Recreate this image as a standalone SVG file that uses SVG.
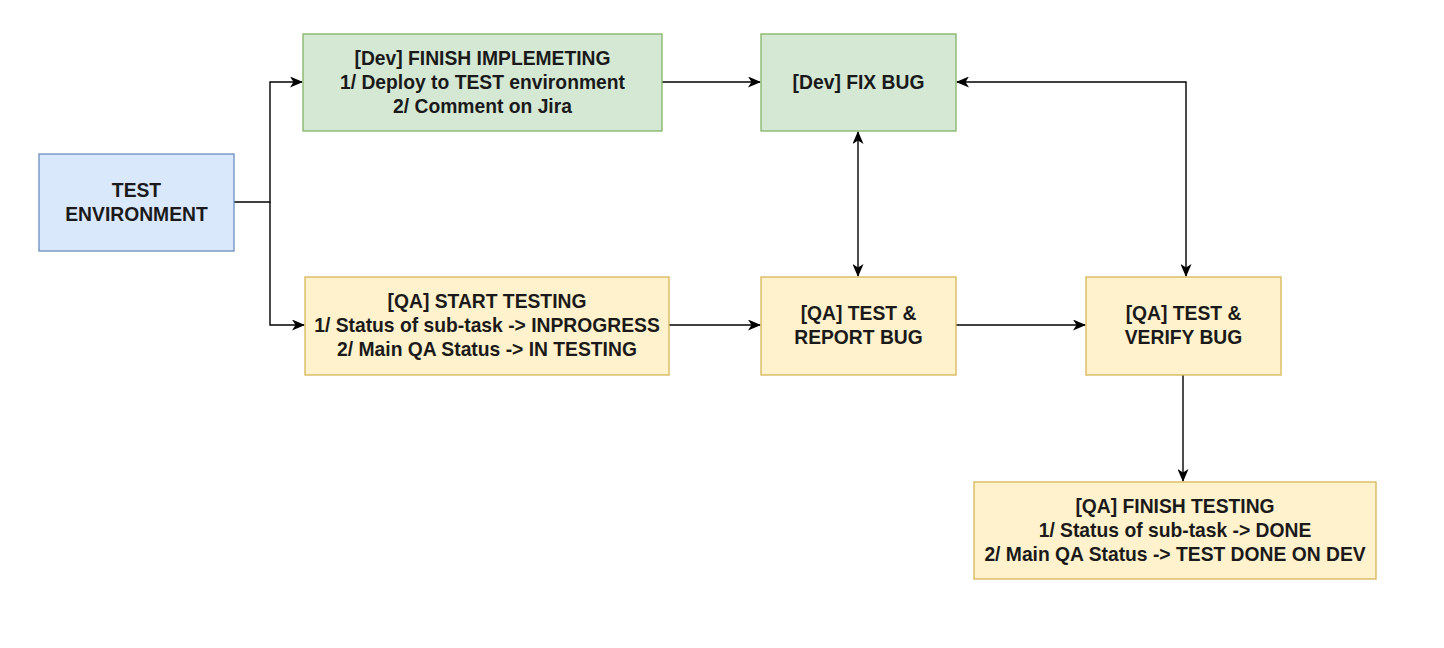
<svg xmlns="http://www.w3.org/2000/svg" width="1444" height="648" viewBox="0 0 1444 648">
<style>
.blue{fill:#dae8fc;stroke:#6c8ebf;stroke-width:1.3}
.green{fill:#d5e8d4;stroke:#82b366;stroke-width:1.3}
.yellow{fill:#fff2cc;stroke:#d6b656;stroke-width:1.3}
text{font-family:"Liberation Sans",Arial,Helvetica,sans-serif;font-weight:bold;font-size:19.3px;fill:#1a1a1a;text-anchor:middle}
.c{fill:none;stroke:#000;stroke-width:1.4}
</style>
<defs>
<marker id="ah" viewBox="0 0 13 11" refX="12" refY="5.5" markerWidth="13" markerHeight="11" markerUnits="userSpaceOnUse" orient="auto-start-reverse">
<path d="M0,0 L13,5.5 L0,11 L3.5,5.5 Z" fill="#000"/>
</marker>
</defs>
<rect width="1444" height="648" fill="#fff"/>
<g id="connectors">
<path class="c" d="M234,202 H270 V82 H302" marker-end="url(#ah)"/>
<path class="c" d="M270,202 V325 H304" marker-end="url(#ah)"/>
<path class="c" d="M662,82 H760" marker-end="url(#ah)"/>
<path class="c" d="M858,132 V276" marker-start="url(#ah)" marker-end="url(#ah)"/>
<path class="c" d="M957,82 H1186 V276" marker-start="url(#ah)" marker-end="url(#ah)"/>
<path class="c" d="M669,325 H760" marker-end="url(#ah)"/>
<path class="c" d="M956,325 H1085" marker-end="url(#ah)"/>
<path class="c" d="M1183,375 V481" marker-end="url(#ah)"/>
</g>
<g id="test-environment">
<rect class="blue" x="39" y="154" width="195" height="97"/>
<text x="136.5" y="197">TEST</text>
<text x="136.5" y="221">ENVIRONMENT</text>
</g>
<g id="finish-implementing">
<rect class="green" x="303" y="34" width="359" height="97"/>
<text x="482.5" y="65">[Dev] FINISH IMPLEMETING</text>
<text x="482.5" y="89">1/ Deploy to TEST environment</text>
<text x="482.5" y="113">2/ Comment on Jira</text>
</g>
<g id="fix-bug">
<rect class="green" x="761" y="34" width="195" height="97"/>
<text x="858.5" y="89">[Dev] FIX BUG</text>
</g>
<g id="start-testing">
<rect class="yellow" x="305" y="277" width="364" height="98"/>
<text x="487" y="308">[QA] START TESTING</text>
<text x="487" y="332">1/ Status of sub-task -&gt; INPROGRESS</text>
<text x="487" y="356">2/ Main QA Status -&gt; IN TESTING</text>
</g>
<g id="report-bug">
<rect class="yellow" x="761" y="277" width="195" height="98"/>
<text x="858.5" y="320">[QA] TEST &amp;</text>
<text x="858.5" y="344">REPORT BUG</text>
</g>
<g id="verify-bug">
<rect class="yellow" x="1086" y="277" width="195" height="98"/>
<text x="1183.5" y="320">[QA] TEST &amp;</text>
<text x="1183.5" y="344">VERIFY BUG</text>
</g>
<g id="finish-testing">
<rect class="yellow" x="974" y="482" width="402" height="97"/>
<text x="1175" y="513">[QA] FINISH TESTING</text>
<text x="1175" y="537">1/ Status of sub-task -&gt; DONE</text>
<text x="1175" y="561">2/ Main QA Status -&gt; TEST DONE ON DEV</text>
</g>
</svg>
